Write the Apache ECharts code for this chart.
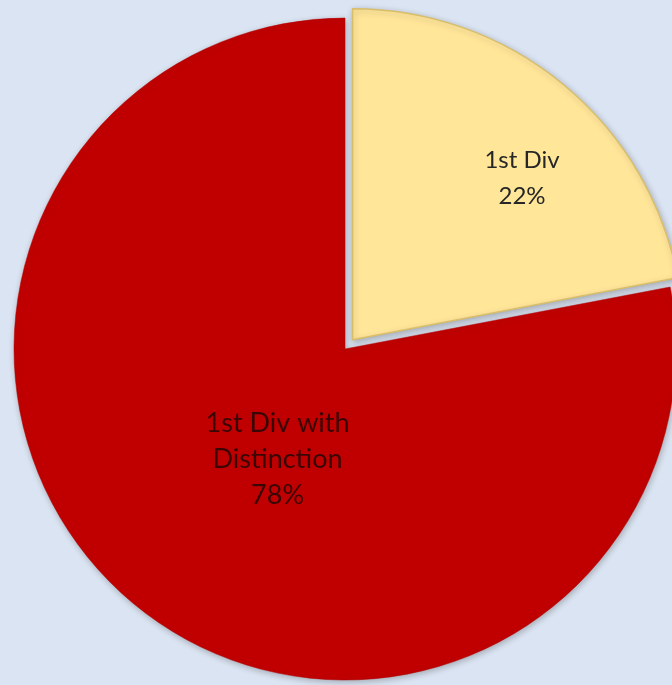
<!DOCTYPE html>
<html>
<head>
<meta charset="utf-8">
<script src="https://cdn.jsdelivr.net/npm/echarts@6/dist/echarts.min.js"></script>
<style>
html,body{margin:0;padding:0;background:#DBE4F2;}
#chart{width:672px;height:685px;}
</style>
</head>
<body>
<div id="chart"></div>
<script>
const categories = ['1st Div', '1st Div with Distinction'];
const values = [22, 78];
const colors = ['#FFE699', '#C00000'];

const labelShift = [[62, -32], [40, -20]];
const labelFont = [24, 27];
const labelColor = ['#262626', '#3a0505'];

const chart = echarts.init(document.getElementById('chart'));
chart.setOption({
  backgroundColor: '#DBE4F2',
  animation: false,
  series: [{
    type: 'pie',
    center: [345, 349],
    radius: [0, 331],
    startAngle: 90,
    clockwise: true,
    selectedMode: 'single',
    selectedOffset: 12,
    emphasis: { disabled: true },
    data: categories.map((c, i) => ({
      name: c,
      value: values[i],
      selected: i === 0,
      itemStyle: {
        color: colors[i],
        borderColor: i === 0 ? '#D9BE6A' : '#B00000',
        borderWidth: i === 0 ? 1.5 : 0.5,
        shadowBlur: 6,
        shadowColor: 'rgba(0,0,0,0.25)',
        shadowOffsetX: 1,
        shadowOffsetY: 2
      },
      label: {
        fontSize: labelFont[i],
        lineHeight: 36,
        color: labelColor[i]
      }
    })),
    label: {
      show: true,
      position: 'inside',
      fontFamily: 'Lato, "Open Sans", sans-serif',
      align: 'center',
      formatter: p => p.name.replace(' with ', ' with\n') + '\n' + Math.round(p.percent) + '%'
    },
    labelLine: { show: false },
    labelLayout: p => ({ dx: labelShift[p.dataIndex][0], dy: labelShift[p.dataIndex][1] })
  }]
});
</script>
</body>
</html>
